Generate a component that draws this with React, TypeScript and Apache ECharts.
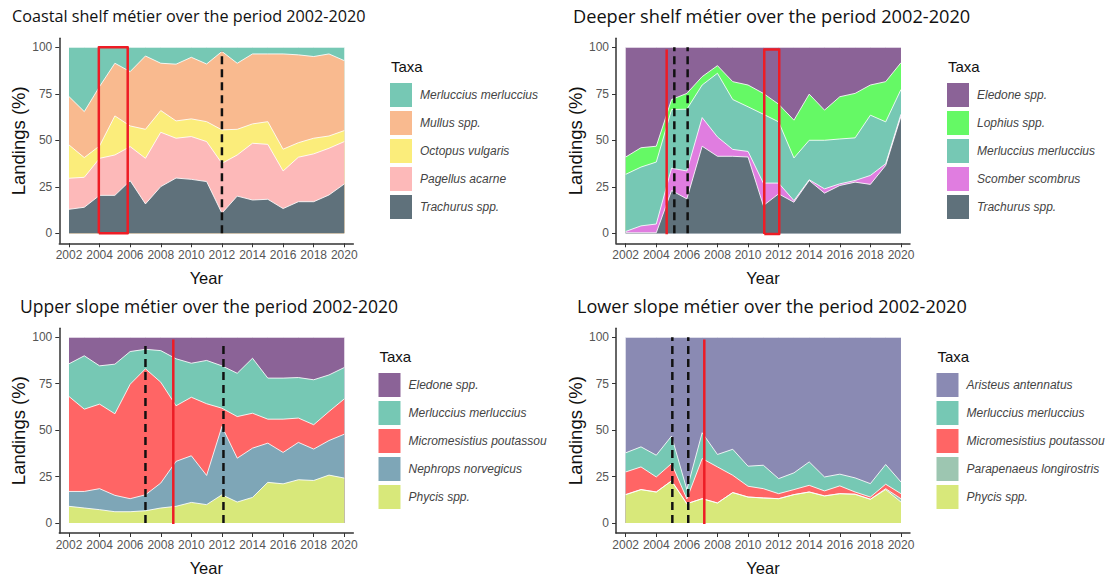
import React, { useEffect, useRef } from 'react';
import * as echarts from 'echarts';

const years = [2002, 2003, 2004, 2005, 2006, 2007, 2008, 2009, 2010, 2011, 2012, 2013, 2014, 2015, 2016, 2017, 2018, 2019, 2020];
const tickYears = [2002, 2004, 2006, 2008, 2010, 2012, 2014, 2016, 2018, 2020];
const tickPercents = [0, 25, 50, 75, 100];

// Coastal shelf (per-taxon landings %, stacked)
const coastalMerluccius = [26.5, 34.6, 21.1, 8.6, 13.1, 4.7, 8.6, 9.1, 5.4, 9, 2.3, 8.6, 3.6, 3.6, 3.6, 4.1, 5, 3.6, 7.2];
const coastalMullus = [26, 24.7, 31.9, 28.3, 29.2, 39.4, 25.4, 30.5, 33.1, 31, 42.1, 35.5, 37.6, 36.4, 51.2, 47.2, 43.9, 44.1, 37.6];
const coastalOctopus = [17.9, 10.6, 6.7, 21, 11.1, 15.6, 11.7, 9.3, 9.5, 10.7, 18, 13.8, 10.4, 12.2, 11.7, 7.8, 8.4, 6.6, 5.9];
const coastalPagellus = [16.7, 16.1, 19.9, 21.7, 18.3, 24.5, 29.2, 21.4, 23, 21.5, 26.8, 22.1, 30.5, 29.5, 20.2, 23.9, 25.7, 25.1, 22.8];
const coastalTrachurus = [12.9, 14, 20.4, 20.4, 28.3, 15.8, 25.1, 29.7, 29, 27.8, 10.8, 20, 17.9, 18.3, 13.3, 17, 17, 20.6, 26.5];

// Deeper shelf
const deeperEledone = [59, 54, 53.2, 28.1, 24.8, 15.8, 9.9, 18.5, 20.3, 24.8, 30.6, 39.2, 25.2, 33.8, 26.6, 24.8, 20.3, 18.5, 8.3];
const deeperLophius = [9.3, 10.4, 8.5, 5.4, 8.5, 4.5, 4.1, 9.6, 11.7, 11.2, 9.5, 20.3, 24.8, 16.2, 22.7, 23.9, 16.2, 21.6, 14.4];
const deeperMerluccius = [30.7, 31.6, 33.3, 31.5, 33.2, 17.5, 34.2, 26.8, 24, 37, 32.9, 22.9, 21.2, 26.1, 24.1, 22.9, 32.4, 22.5, 13.3];
const deeperScomber = [0.7, 3.7, 4.7, 12, 15, 15.4, 10.4, 3.7, 3, 12.1, 5.8, 0.9, 0.4, 2.3, 0.9, 0.9, 4.8, 0.9, 1.1];
const deeperTrachurus = [0.3, 0.3, 0.3, 23, 18.5, 46.8, 41.4, 41.4, 41, 14.9, 21.2, 16.7, 28.4, 21.6, 25.7, 27.5, 26.3, 36.5, 62.9];

// Upper slope
const upperEledone = [14.3, 10, 15.4, 14.5, 7.7, 6.5, 7.2, 11.6, 14, 12.5, 15.4, 19.4, 11.3, 22, 22, 21.7, 22.9, 20.3, 16.3];
const upperMerluccius = [17.6, 28.7, 20.6, 26.7, 17.6, 10.5, 17, 25.3, 18.3, 23.3, 22.8, 23.3, 29.6, 22.1, 22.1, 21.8, 24.2, 19.7, 16.9];
const upperMicromesistius = [51.1, 44.3, 45.5, 43.9, 61.6, 67.8, 54.3, 29.9, 31.5, 38.6, 9.8, 22.4, 18.8, 12.9, 17.9, 13.1, 13.1, 15.6, 19];
const upperNephrops = [8, 8.9, 11.3, 8.8, 7, 8.6, 13.4, 24.2, 25.1, 15.7, 36.8, 23.6, 26.5, 21.1, 16.9, 20.1, 16.9, 18.6, 23.6];
const upperPhycis = [9, 8.1, 7.2, 6.1, 6.1, 6.6, 8.1, 9, 11.1, 9.9, 15.2, 11.3, 13.8, 21.9, 21.1, 23.3, 22.9, 25.8, 24.2];

// Lower slope
const lowerAristeus = [62.2, 59, 63.5, 53.2, 82, 51.4, 63.1, 60.3, 69.4, 68.9, 76.1, 73, 67.1, 75.2, 73.7, 75.7, 78.8, 68.5, 77.9];
const lowerMerluccius = [10.3, 10.8, 11.7, 14.8, 5, 13.9, 6.7, 14, 10.8, 12.6, 8.1, 9, 12.6, 7.5, 6.3, 7.6, 7.2, 10.6, 6.3];
const lowerMicromesistius = [12.2, 12.2, 8.1, 9.3, 2.6, 21.6, 19.4, 9.3, 5.8, 5, 2.7, 2.7, 3.6, 2.7, 4.2, 1.2, 1.2, 2.4, 2.7];
const lowerParapenaeus = [0, 0, 0, 0, 0, 0, 0, 0, 0, 0, 0, 0, 0, 0, 0, 0, 0, 0.5, 1.8];
const lowerPhycis = [15.3, 18, 16.7, 22.7, 10.4, 13.1, 10.8, 16.4, 14, 13.5, 13.1, 15.3, 16.7, 14.6, 15.8, 15.5, 12.8, 18, 11.3];

// Annotation positions (years)
const coastalDashed = [2012];
const coastalRect = [2003.95, 2005.84];
const deeperRed = [2004.68];
const deeperDashed = [2005.18, 2006.05];
const deeperRect = [2011.06, 2012.04];
const upperDashed = [2007, 2012.1];
const upperRed = [2008.82];
const lowerDashed = [2005.05, 2006.09];
const lowerRed = [2007.14];

const colors: Record<string, string> = {
  'Merluccius merluccius': '#76C8B4',
  'Mullus spp.': '#F9BA8F',
  'Octopus vulgaris': '#FBED7B',
  'Pagellus acarne': '#FDB9B9',
  'Trachurus spp.': '#5F717B',
  'Eledone spp.': '#8B6397',
  'Lophius spp.': '#65F965',
  'Scomber scombrus': '#E07DE0',
  'Micromesistius poutassou': '#FF6565',
  'Nephrops norvegicus': '#7EA6B7',
  'Phycis spp.': '#D8E87A',
  'Aristeus antennatus': '#8A8AB3',
  'Parapenaeus longirostris': '#9DC6B1',
};

const fontTitle = "'Open Sans', sans-serif";
const fontAxis = "'Liberation Sans', Arial, sans-serif";

type Panel = {
  title: string;
  titleLeft: number;
  titleTop: number;
  titleSize: number;
  grid: { left: number; top: number };
  legendLeft: number;
  legendTop: number;
  taxa: [string, number[]][]; // top -> bottom (legend order)
  dashed: number[];
  red: number[];
  rect: number[] | null;
  dashedTop: number;
};

const panels: Panel[] = [
  {
    title: 'Coastal shelf métier over the period 2002-2020',
    titleLeft: 12, titleTop: 8, titleSize: 16.2,
    grid: { left: 59.3, top: 38.3 },
    legendLeft: 390, legendTop: 83,
    taxa: [
      ['Merluccius merluccius', coastalMerluccius],
      ['Mullus spp.', coastalMullus],
      ['Octopus vulgaris', coastalOctopus],
      ['Pagellus acarne', coastalPagellus],
      ['Trachurus spp.', coastalTrachurus],
    ],
    dashed: coastalDashed, red: [], rect: coastalRect, dashedTop: 98,
  },
  {
    title: 'Deeper shelf métier over the period 2002-2020',
    titleLeft: 573, titleTop: 6.5, titleSize: 18.2,
    grid: { left: 616, top: 38.3 },
    legendLeft: 947, legendTop: 83,
    taxa: [
      ['Eledone spp.', deeperEledone],
      ['Lophius spp.', deeperLophius],
      ['Merluccius merluccius', deeperMerluccius],
      ['Scomber scombrus', deeperScomber],
      ['Trachurus spp.', deeperTrachurus],
    ],
    dashed: deeperDashed, red: deeperRed, rect: deeperRect, dashedTop: 100,
  },
  {
    title: 'Upper slope métier over the period 2002-2020',
    titleLeft: 20, titleTop: 297, titleSize: 17.5,
    grid: { left: 59.3, top: 328.3 },
    legendLeft: 378.5, legendTop: 373,
    taxa: [
      ['Eledone spp.', upperEledone],
      ['Merluccius merluccius', upperMerluccius],
      ['Micromesistius poutassou', upperMicromesistius],
      ['Nephrops norvegicus', upperNephrops],
      ['Phycis spp.', upperPhycis],
    ],
    dashed: upperDashed, red: upperRed, rect: null, dashedTop: 98,
  },
  {
    title: 'Lower slope métier over the period 2002-2020',
    titleLeft: 577, titleTop: 296.5, titleSize: 18.1,
    grid: { left: 616, top: 328.3 },
    legendLeft: 936.5, legendTop: 373,
    taxa: [
      ['Aristeus antennatus', lowerAristeus],
      ['Merluccius merluccius', lowerMerluccius],
      ['Micromesistius poutassou', lowerMicromesistius],
      ['Parapenaeus longirostris', lowerParapenaeus],
      ['Phycis spp.', lowerPhycis],
    ],
    dashed: lowerDashed, red: lowerRed, rect: null, dashedTop: 100,
  },
];

const GRID_W = 294;
const GRID_H = 205;

function buildOption() {
  const grid: any[] = [];
  const xAxis: any[] = [];
  const yAxis: any[] = [];
  const title: any[] = [];
  const legend: any[] = [];
  const series: any[] = [];

  panels.forEach((p, i) => {
    grid.push({ left: p.grid.left, top: p.grid.top, width: GRID_W, height: GRID_H, containLabel: false });
    xAxis.push({
      type: 'value', gridIndex: i, min: 2001.366, max: 2020.59,
      name: 'Year', nameLocation: 'middle', nameGap: 26,
      nameTextStyle: { fontSize: 16.5, color: '#111', fontFamily: fontAxis },
      axisLine: { show: true, onZero: false, lineStyle: { color: '#333', width: 1.5 } },
      axisTick: { show: true, customValues: tickYears, length: 4, lineStyle: { color: '#333', width: 1 } },
      axisLabel: { customValues: tickYears, color: '#555', fontSize: 12, fontFamily: fontAxis, margin: 6, formatter: (v: number) => String(v) },
      splitLine: { show: false },
    });
    yAxis.push({
      type: 'value', gridIndex: i, min: -5.36, max: 104.8,
      name: 'Landings (%)', nameLocation: 'middle', nameGap: 30,
      nameTextStyle: { fontSize: 18.5, color: '#111', fontFamily: fontAxis },
      axisLine: { show: true, onZero: false, lineStyle: { color: '#333', width: 1.5 } },
      axisTick: { show: true, customValues: tickPercents, length: 4, lineStyle: { color: '#333', width: 1 } },
      axisLabel: { customValues: tickPercents, color: '#555', fontSize: 12, fontFamily: fontAxis, margin: 7, formatter: (v: number) => String(v) },
      splitLine: { show: false },
    });
    title.push({
      text: p.title, left: p.titleLeft, top: p.titleTop, padding: 0,
      textStyle: { fontSize: p.titleSize, fontWeight: 'normal', color: '#111', fontFamily: fontTitle },
    });
    title.push({
      text: 'Taxa', left: p.legendLeft + 1, top: p.legendTop - 24, padding: 0,
      textStyle: { fontSize: 15, fontWeight: 'normal', color: '#111', fontFamily: fontAxis },
    });
    legend.push({
      orient: 'vertical', left: p.legendLeft, top: p.legendTop, padding: 0,
      itemWidth: 22, itemHeight: 24, itemGap: 4, selectedMode: false,
      textStyle: { fontSize: 12, fontStyle: 'italic', color: '#444', fontFamily: fontAxis, padding: [0, 0, 0, 3] },
      data: p.taxa.map(([name]) => ({ name, icon: 'rect', itemStyle: { color: colors[name], borderWidth: 0 } })),
    });
    // Stack: each taxon's band sits on the sum of the taxa listed after it.
    // Draw from the top band downwards so lower bands overlay higher ones.
    p.taxa.forEach(([name, vals], t) => {
      const below = p.taxa.slice(t + 1);
      const cum = years.map((_, k) => below.reduce((s, [, v]) => s + v[k], vals[k]));
      series.push({
        type: 'line', name, xAxisIndex: i, yAxisIndex: i,
        data: years.map((y, k) => [y, cum[k]]),
        symbol: 'none', silent: true,
        lineStyle: { color: 'rgba(255,255,255,0.85)', width: 1 },
        areaStyle: { color: colors[name], opacity: 1, origin: 0 },
        itemStyle: { color: colors[name] },
        z: 2,
      });
    });
    p.dashed.forEach((x) => {
      series.push({
        type: 'line', name: 'marker-dash', xAxisIndex: i, yAxisIndex: i,
        data: [[x, 0], [x, p.dashedTop]], symbol: 'none', silent: true,
        lineStyle: { color: '#111', width: 2.5, type: [8, 5] }, z: 5,
      });
    });
    p.red.forEach((x) => {
      series.push({
        type: 'line', name: 'marker-red', xAxisIndex: i, yAxisIndex: i,
        data: [[x, -0.5], [x, 98.8]], symbol: 'none', silent: true,
        lineStyle: { color: '#EE1C25', width: 2.5 }, z: 5,
      });
    });
    if (p.rect) {
      const [x0, x1] = p.rect;
      const top = i === 0 ? 100 : 98.8;
      const bottom = i === 0 ? 0 : -0.4;
      series.push({
        type: 'line', name: 'marker-rect', xAxisIndex: i, yAxisIndex: i,
        data: [[x0, bottom], [x1, bottom], [x1, top], [x0, top], [x0, bottom]], symbol: 'none', silent: true,
        lineStyle: { color: '#EE1C25', width: 2.5, join: 'round' }, z: 5,
      });
    }
  });

  return { animation: false, backgroundColor: '#fff', grid, xAxis, yAxis, title, legend, series };
}

export default function App() {
  const ref = useRef<HTMLDivElement>(null);
  useEffect(() => {
    if (!ref.current) return;
    const chart = echarts.init(ref.current, undefined, { renderer: 'svg' });
    chart.setOption(buildOption() as any);
    return () => chart.dispose();
  }, []);
  return <div ref={ref} style={{ position: 'fixed', left: 0, top: 0, width: 1109, height: 577, background: '#fff' }} />;
}
